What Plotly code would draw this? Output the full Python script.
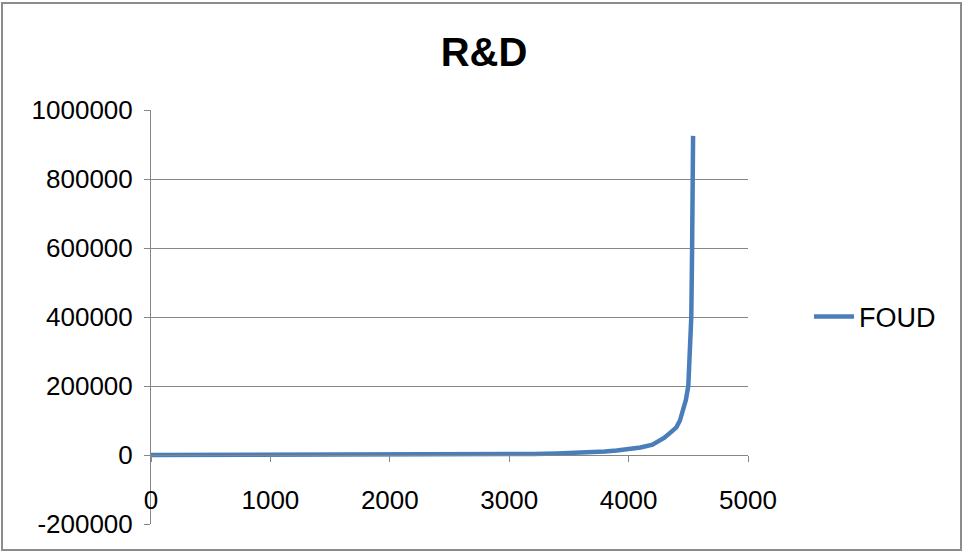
import plotly.graph_objects as go

# Sorted FOUD values
obs_index = [0, 500, 1000, 1500, 2000, 2500, 2800, 3000, 3200, 3400, 3600, 3800, 3900, 4000,
             4100, 4200, 4250, 4300, 4350, 4400, 4430, 4460, 4480, 4500, 4515, 4525, 4532, 4537, 4540]
foud = [0, 0, 0, 100, 300, 800, 1500, 2200, 3200, 4500, 6500, 10000, 13000, 17000,
        22000, 30000, 40000, 50000, 65000, 80000, 100000, 130000, 160000, 200000, 300000,
        400000, 600000, 800000, 925000]

x_ticks = [0, 1000, 2000, 3000, 4000, 5000]
y_ticks = [-200000, 0, 200000, 400000, 600000, 800000, 1000000]

L, R, T, B = 151, 748, 110, 524
W, H = 964, 553
pw, ph = R - L, B - T

def px(xp):
    return (xp - L) / pw

def py(yp):
    return (B - yp) / ph

grid = "#868686"
font = "Liberation Sans, Arial, sans-serif"

fig = go.Figure()
fig.add_trace(go.Scatter(x=obs_index, y=foud, mode="lines", name="FOUD",
                         line=dict(color="#4A7EBB", width=4.5)))

fig.update_layout(
    width=W, height=H,
    margin=dict(l=L, r=W - R, t=T, b=H - B),
    paper_bgcolor="white", plot_bgcolor="white",
    font=dict(family=font, size=26, color="black"),
    title=dict(text="<b>R&D</b>", x=(484) / W, xanchor="center", y=1 - 52 / H, yanchor="middle",
               font=dict(size=40, family=font)),
    showlegend=True,
    legend=dict(x=px(809), xanchor="left", y=py(317), yanchor="middle",
                font=dict(size=27), bgcolor="rgba(0,0,0,0)", itemwidth=40),
    xaxis=dict(range=[0, 5000], tickvals=x_ticks, ticktext=[str(v) for v in x_ticks],
               showgrid=False, zeroline=False, showline=True, linecolor=grid, linewidth=1,
               ticks="outside", ticklen=6, tickcolor=grid, anchor="free",
               position=py(455), ticklabelstandoff=16),
    yaxis=dict(range=[-200000, 1000000], tickvals=y_ticks, ticktext=[str(v) for v in y_ticks],
               showgrid=True, gridcolor=grid, gridwidth=1, zeroline=False,
               showline=True, linecolor=grid, linewidth=1,
               ticks="outside", ticklen=6, tickcolor=grid, ticklabelstandoff=6),
)

fig.add_shape(type="rect", xref="paper", yref="paper",
              x0=px(2), x1=px(961), y0=py(550), y1=py(3),
              line=dict(color="#8c8c8c", width=2), layer="below")

fig.write_html("out.html")
